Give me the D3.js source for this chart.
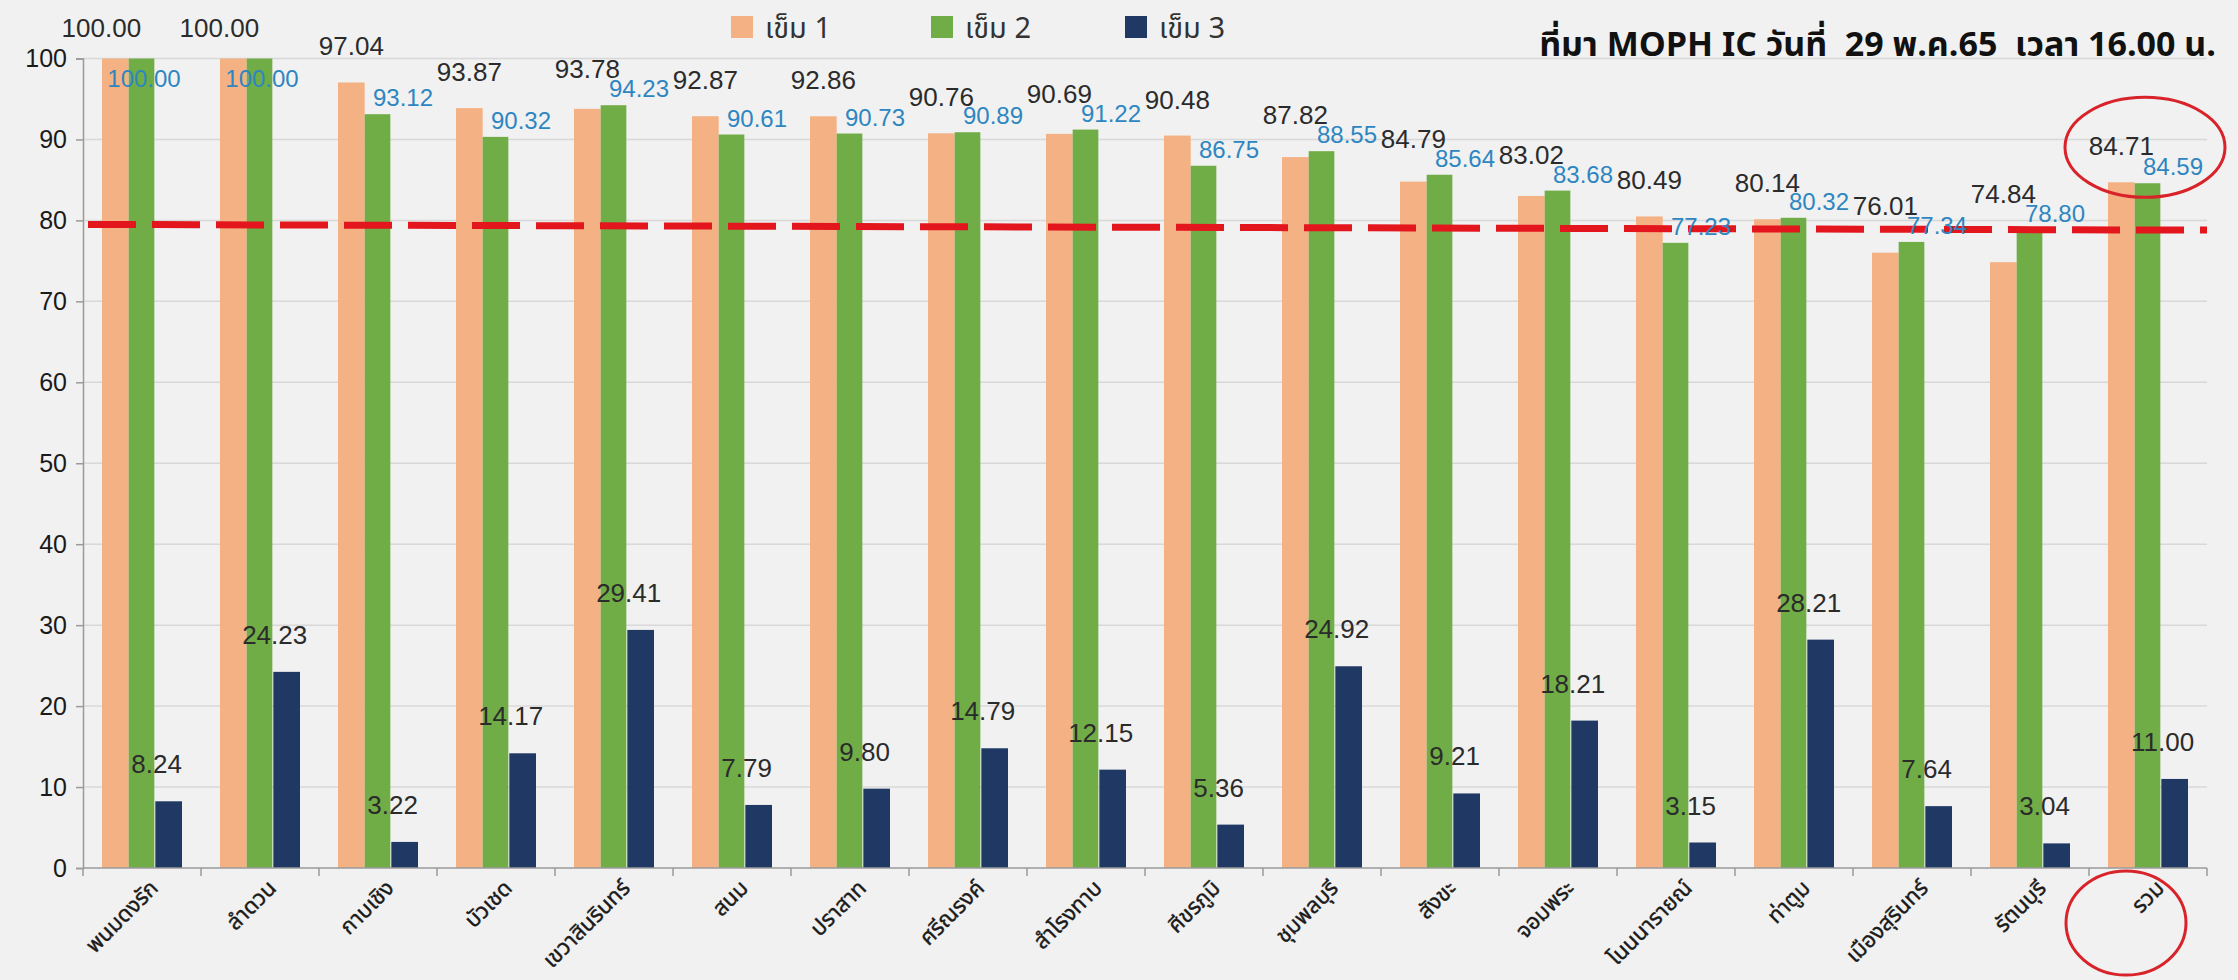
<!DOCTYPE html>
<html>
<head>
<meta charset="utf-8">
<script src="https://cdn.jsdelivr.net/npm/d3@7/dist/d3.min.js"></script>
<style>
  html, body { margin: 0; padding: 0; background: #f1f1f1; }
  svg { display: block; }
</style>
</head>
<body>
<svg id="chart" width="2238" height="980"></svg>
<script>
const categories = ["พนมดงรัก", "ลำดวน", "กาบเชิง", "บัวเชด", "เขวาสินรินทร์", "สนม", "ปราสาท", "ศรีณรงค์", "สำโรงทาบ", "ศีขรภูมิ", "ชุมพลบุรี", "สังขะ", "จอมพระ", "โนนนารายณ์", "ท่าตูม", "เมืองสุรินทร์", "รัตนบุรี", "รวม"];
const dose1 = [100.00, 100.00, 97.04, 93.87, 93.78, 92.87, 92.86, 90.76, 90.69, 90.48, 87.82, 84.79, 83.02, 80.49, 80.14, 76.01, 74.84, 84.71];
const dose2 = [100.00, 100.00, 93.12, 90.32, 94.23, 90.61, 90.73, 90.89, 91.22, 86.75, 88.55, 85.64, 83.68, 77.23, 80.32, 77.34, 78.80, 84.59];
const dose3 = [8.24, 24.23, 3.22, 14.17, 29.41, 7.79, 9.80, 14.79, 12.15, 5.36, 24.92, 9.21, 18.21, 3.15, 28.21, 7.64, 3.04, 11.00];
const seriesNames = ["เข็ม 1", "เข็ม 2", "เข็ม 3"];
const yTicks = [0, 10, 20, 30, 40, 50, 60, 70, 80, 90, 100];
const targetLine = [79.5, 78.8];
const sourceText = "ที่มา MOPH IC วันที่  29 พ.ค.65  เวลา 16.00 น.";

const colors = ["#f4b183", "#70ad47", "#1f3864"];
const thaiFont = "Tahoma, 'Noto Sans Thai', 'Leelawadee UI', 'DejaVu Sans', 'Noto Sans', sans-serif";
const numFont = "'Liberation Sans', Arial, sans-serif";

const svg = d3.select("#chart");
const W = 2238, H = 980;
const mLeft = 83, mRight = 2207, mTop = 58.5, mBottom = 868;

svg.append("rect").attr("width", W).attr("height", H).attr("fill", "#f1f1f1");

const x = d3.scaleBand().domain(categories).range([mLeft, mRight]).paddingInner(0).paddingOuter(0);
const y = d3.scaleLinear().domain([0, 100]).range([mBottom, mTop]);
const series = [dose1, dose2, dose3];
const x1 = d3.scaleBand().domain([0, 1, 2]).range([0, 80]);
const groupOffset = (x.bandwidth() - 80) / 2;

// gridlines
svg.append("g").selectAll("line").data(yTicks.filter(t => t > 0)).join("line")
  .attr("x1", mLeft).attr("x2", mRight)
  .attr("y1", d => y(d)).attr("y2", d => y(d))
  .attr("stroke", "#d8d8d8").attr("stroke-width", 1.5);

// y axis
const yAxis = svg.append("g").attr("transform", `translate(${mLeft},0)`)
  .call(d3.axisLeft(y).tickValues(yTicks).tickSize(7).tickPadding(9).tickFormat(d3.format("d")));
yAxis.select(".domain").attr("stroke", "#9a9a9a").attr("stroke-width", 1.5);
yAxis.selectAll(".tick line").attr("stroke", "#9a9a9a").attr("stroke-width", 1.5);
yAxis.selectAll(".tick text").attr("font-family", numFont).attr("font-size", 25).attr("fill", "#1a1a1a");

// bars
series.forEach((vals, si) => {
  svg.append("g").selectAll("rect").data(vals).join("rect")
    .attr("x", (d, i) => x(categories[i]) + groupOffset + x1(si))
    .attr("width", x1.bandwidth() - (si === 1 ? 1 : 0))
    .attr("y", d => y(d))
    .attr("height", d => y(0) - y(d))
    .attr("fill", colors[si]);
});

// x axis
const xAxis = svg.append("g").attr("transform", `translate(0,${mBottom})`);
xAxis.append("line").attr("x1", mLeft).attr("x2", mRight).attr("y1", 0).attr("y2", 0)
  .attr("stroke", "#9a9a9a").attr("stroke-width", 1.5);
const boundaries = categories.map(c => x(c)).concat([mRight]);
xAxis.selectAll("line.tk").data(boundaries).join("line").attr("class", "tk")
  .attr("x1", d => d).attr("x2", d => d).attr("y1", 0).attr("y2", 8)
  .attr("stroke", "#9a9a9a").attr("stroke-width", 1.5);
xAxis.selectAll("text").data(categories).join("text")
  .attr("transform", d => `translate(${x(d) + x.bandwidth() / 2 + 12},${16}) rotate(-45)`)
  .attr("text-anchor", "end")
  .attr("dy", "0.35em")
  .attr("font-family", thaiFont).attr("font-size", 22).attr("fill", "#1a1a1a")
  .attr("stroke", "#1a1a1a").attr("stroke-width", 0.4)
  .text(d => d);

// target dashed line
svg.append("line")
  .attr("x1", mLeft + 5).attr("x2", mRight)
  .attr("y1", y(targetLine[0])).attr("y2", y(targetLine[1]))
  .attr("stroke", "#e3161d").attr("stroke-width", 7)
  .attr("stroke-dasharray", "48 16");

// value labels with simple collision avoidance between dose 1 and dose 2 labels
const fmt = d3.format(".2f");
const barCenter = (i, si) => x(categories[i]) + groupOffset + x1(si) + x1.bandwidth() / 2;
const atMax = d => d >= y.domain()[1] - 0.05;
const lab = dose1.map((d1, i) => {
  const d2 = dose2[i];
  let x2 = atMax(d2) ? barCenter(i, 1) + 2 : barCenter(i, 1) + 25;
  let b2 = atMax(d2) ? y(d2) + 28 : y(d2) - 8;
  let x1c = barCenter(i, 0) - (atMax(d1) ? 14 : 0);
  let b1 = atMax(d1) ? y(d1) - 22 : y(d1) - 27;
  const overlap = (b1 - 19 < b2) && (b2 - 17 < b1);
  if (overlap && !atMax(d1)) b1 = b2 - 19;
  return { d1, d2, x1c, b1, x2, b2 };
});

svg.append("g").selectAll("text").data(lab).join("text")
  .attr("x", d => d.x1c).attr("y", d => d.b1)
  .attr("text-anchor", "middle")
  .attr("font-family", numFont).attr("font-size", 26).attr("fill", "#2b2b2b")
  .text(d => fmt(d.d1));
svg.append("g").selectAll("text").data(lab).join("text")
  .attr("x", d => d.x2).attr("y", d => d.b2)
  .attr("text-anchor", "middle")
  .attr("font-family", numFont).attr("font-size", 24).attr("fill", "#2e86c1")
  .text(d => fmt(d.d2));
svg.append("g").selectAll("text").data(dose3).join("text")
  .attr("x", (d, i) => barCenter(i, 2) - 12)
  .attr("y", d => y(d) - 28)
  .attr("text-anchor", "middle")
  .attr("font-family", numFont).attr("font-size", 26).attr("fill", "#2b2b2b")
  .text(d => fmt(d));

// legend
const legendX = [731, 931, 1125];
const lg = svg.append("g");
seriesNames.forEach((n, i) => {
  lg.append("rect").attr("x", legendX[i]).attr("y", 16).attr("width", 22).attr("height", 22).attr("fill", colors[i]);
  lg.append("text").attr("x", legendX[i] + 34).attr("y", 38)
    .attr("font-family", thaiFont).attr("font-size", 29).attr("fill", "#333").text(n);
});

// source
svg.append("text").attr("x", 2216).attr("y", 56).attr("text-anchor", "end")
  .attr("font-family", thaiFont).attr("font-size", 34).attr("font-weight", "bold").attr("fill", "#111")
  .style("white-space", "pre")
  .text(sourceText);

// annotation ellipses around total
const last = categories[categories.length - 1];
const lc = x(last) + x.bandwidth() / 2;
svg.append("ellipse").attr("cx", lc - 3).attr("cy", y(dose1[dose1.length - 1]) - 35)
  .attr("rx", 80).attr("ry", 50).attr("fill", "none").attr("stroke", "#d8232a").attr("stroke-width", 3);
svg.append("ellipse").attr("cx", lc - 22).attr("cy", mBottom + 55)
  .attr("rx", 60).attr("ry", 52).attr("fill", "none").attr("stroke", "#d8232a").attr("stroke-width", 3);
</script>
</body>
</html>
